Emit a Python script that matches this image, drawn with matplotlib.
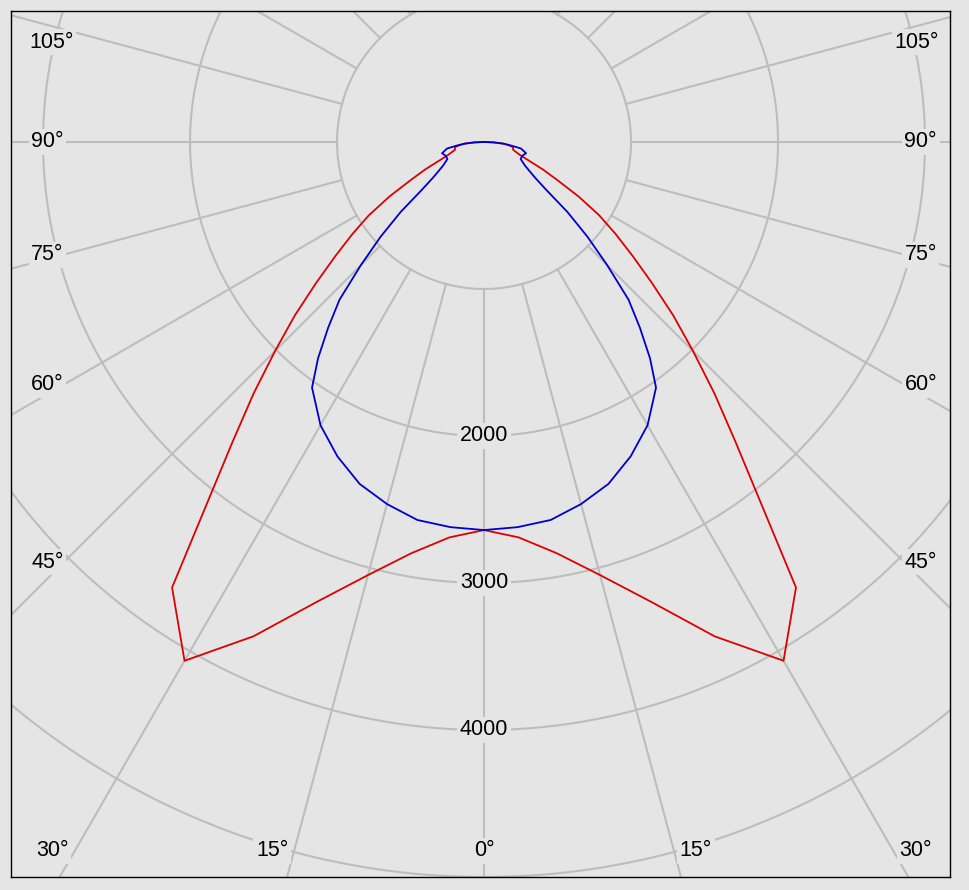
import numpy as np
import matplotlib
matplotlib.use("Agg")
import matplotlib.pyplot as plt

# ---------------- data (gamma angle in degrees, intensity in cd) ----------------
blue_angles = [0, 5, 10, 15, 20, 25, 30, 35, 37.5, 40, 42.5, 45, 47.5, 50, 52.5,
               55, 57.5, 60, 65, 70, 75, 80, 82.5, 85, 87.5, 90]
blue_cd = [2640, 2630, 2611, 2550, 2475, 2360, 2225, 2040, 1855, 1650, 1455, 1185,
           955, 740, 530, 425, 365, 322, 275, 276, 296, 255, 185, 135, 68, 0]

red_angles = [0, 5, 10, 15, 20, 25, 30, 35, 40, 42.5, 45, 47.5, 50, 52.5, 55,
              57.5, 60, 62.5, 65, 70, 75, 80, 82.5, 85, 87.5, 90]
red_cd = [2640, 2700, 2840, 3050, 3330, 3710, 4075, 3700, 2660, 2320, 2010, 1745,
          1490, 1275, 1095, 930, 745, 565, 440, 262, 205, 200, 170, 135, 68, 0]

ring_values = [1000, 2000, 3000, 4000, 5000]
ring_labels = [2000, 3000, 4000]
spoke_angles = list(range(0, 360, 15))
angle_labels = [0, 15, 30, 45, 60, 75, 90, 105]

# ---------------- style ----------------
BG = "#e5e5e5"
GRID = "#bdbdbd"
FONT = ["Liberation Sans", "DejaVu Sans"]
FS = 15.5

fig = plt.figure(figsize=(9.69, 8.90), dpi=100, facecolor=BG)
ax = fig.add_axes([11 / 969, 13 / 890, 939 / 969, 866 / 890])
ax.set_facecolor(BG)
ax.set_xlim(-3218, 3170)
ax.set_ylim(-5000, 891)
ax.set_xticks([])
ax.set_yticks([])
for s in ax.spines.values():
    s.set_color("black")
    s.set_linewidth(1.0)


def to_xy(ang_deg, r, side=1):
    a = np.radians(np.asarray(ang_deg, dtype=float))
    r = np.asarray(r, dtype=float)
    return side * r * np.sin(a), -r * np.cos(a)


# rings
t = np.linspace(0, 2 * np.pi, 1441)
for rv in ring_values:
    ax.plot(rv * np.cos(t), rv * np.sin(t), color=GRID, lw=1.5, zorder=1)

# spokes
for a in spoke_angles:
    xs, ys = to_xy([a, a], [ring_values[0], 9000])
    ax.plot(xs, ys, color=GRID, lw=1.5, zorder=1)

box = dict(boxstyle="square,pad=0.12", fc=BG, ec="none")

# ring labels
for rv in ring_labels:
    ax.text(0, -rv, f"{rv}", ha="center", va="center", fontsize=FS,
            family=FONT, zorder=3, bbox=box)

# angle labels
inset_x, inset_y, top_y = 2860, 4823, 680
for a in angle_labels:
    ar = np.radians(a)
    s, c = np.sin(ar), np.cos(ar)
    t_side = inset_x / s if s > 1e-9 else np.inf
    t_bot = inset_y / c if c > 1e-9 else np.inf
    for side in ([1] if a == 0 else [-1, 1]):
        if t_bot <= t_side:
            x = side * (inset_y * np.tan(ar) + (40 if a else 0))
            y = -inset_y
        else:
            x = side * inset_x
            y = -inset_x / np.tan(ar) if abs(np.tan(ar)) > 1e-9 else 0.0
            if y > top_y:
                y = top_y
                x = side * (inset_x - 70)
        if a == 0:
            ha = "center"
        else:
            ha = "right" if side < 0 else "left"
        ax.text(x, y, f"{a}°", ha=ha, va="center", fontsize=FS, family=FONT,
                zorder=3, bbox=box)


def full_curve(angles, values):
    xr, yr = to_xy(angles, values, 1)
    xl, yl = to_xy(angles, values, -1)
    return np.concatenate([xl[::-1], xr[1:]]), np.concatenate([yl[::-1], yr[1:]])


bx, by = full_curve(blue_angles, blue_cd)
rx, ry = full_curve(red_angles, red_cd)
ax.plot(rx, ry, color="#dd0000", lw=1.3, zorder=4)
ax.plot(bx, by, color="#0000cc", lw=1.3, zorder=5)

fig.savefig("out.png", dpi=100, facecolor=BG)
